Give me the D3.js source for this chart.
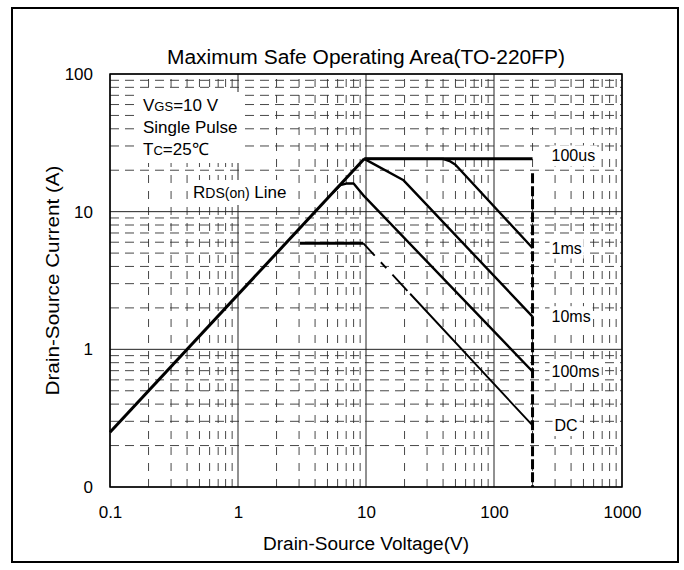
<!DOCTYPE html>
<html>
<head>
<meta charset="utf-8">
<script src="https://cdn.jsdelivr.net/npm/d3@7"></script>
<style>
    body { margin: 0; background: #fff; }
    text { font-family: "Liberation Sans", Arial, sans-serif; fill: #000; }
</style>
</head>
<body>
<div id="svgContainer"></div>
<script>
var width = 684,
    height = 570;

// axis ticks
var xTicks = [0.1, 1, 10, 100, 1000];
var xTickLabels = ["0.1", "1", "10", "100", "1000"];
var yTicks = [0.1, 1, 10, 100];
var yTickLabels = ["0", "1", "10", "100"];

// curves: drain-source voltage (V) / drain current (A)
var rdsV = [0.1, 9.7];
var rdsI = [0.25, 24.2];
var us100V = [9.7, 200];
var us100I = [24.2, 24.2];
var ms1V = [9.7, 40, 45, 50, 200];
var ms1I = [24.2, 24.2, 23.3, 21.9, 5.45];
var ms10V = [9.7, 19.5, 200];
var ms10I = [24.2, 17.0, 1.73];
var ms100V = [5.5, 6.3, 7, 8, 9.5, 200];
var ms100I = [13.75, 15.6, 16, 16, 13.2, 0.69];
var dcFlatV = [3.05, 9.5];
var dcFlatI = [5.9, 5.9];
var dcV = [9.5, 200];
var dcI = [5.9, 0.28];
var limitV = [200, 200];
var limitI = [19, 0.1];

var curveNames = ["100us", "1ms", "10ms", "100ms", "DC"];

var margin = {left: 110, right: 622, top: 74, bottom: 487};

var svg = d3.select("#svgContainer").append("svg")
    .attr("width", width)
    .attr("height", height)
    .style("display", "block");

var x = d3.scaleLog().domain([0.1, 1000]).range([margin.left, margin.right]);
var y = d3.scaleLog().domain([0.1, 100]).range([margin.bottom, margin.top]);

isDecade = d => Math.abs(Math.log10(d) - Math.round(Math.log10(d))) < 1e-6;

// outer frame
svg.append("rect")
    .attr("x", 12).attr("y", 8)
    .attr("width", 666).attr("height", 554)
    .attr("fill", "none")
    .attr("stroke", "#000")
    .attr("stroke-width", 2);

// grid
var grid = svg.append("g");
grid.selectAll("line.vx")
    .data(x.ticks())
    .enter().append("line")
    .attr("x1", d => x(d)).attr("x2", d => x(d))
    .attr("y1", margin.bottom).attr("y2", margin.top)
    .attr("stroke", d => isDecade(d) ? "#222" : "#333")
    .attr("stroke-width", d => isDecade(d) ? 1 : 0.9)
    .attr("stroke-dasharray", d => isDecade(d) ? null : "8,8");

grid.selectAll("line.hy")
    .data(y.ticks())
    .enter().append("line")
    .attr("x1", margin.left).attr("x2", margin.right)
    .attr("y1", d => y(d)).attr("y2", d => y(d))
    .attr("stroke", d => isDecade(d) ? "#222" : "#333")
    .attr("stroke-width", d => isDecade(d) ? 1 : 0.9)
    .attr("stroke-dasharray", d => isDecade(d) ? null : "9,6");

// labels with white boxes behind them
var boxes = svg.append("g");
var labels = svg.append("g");

whiteBox = (nodes, pad) => {
    var b = nodes.map(n => n.getBBox());
    var x0 = d3.min(b, d => d.x) - pad,
        y0 = d3.min(b, d => d.y) - pad,
        x1 = d3.max(b, d => d.x + d.width) + pad,
        y1 = d3.max(b, d => d.y + d.height) + pad;
    boxes.append("rect")
        .attr("x", x0).attr("y", y0)
        .attr("width", x1 - x0).attr("height", y1 - y0)
        .attr("fill", "#fff");
}

var note = labels.append("g").attr("font-size", 17);
var t1 = note.append("text").attr("x", 143).attr("y", 111);
t1.append("tspan").text("V");
t1.append("tspan").attr("font-size", 13).text("GS");
t1.append("tspan").text("=10 V");
var t2 = note.append("text").attr("x", 143).attr("y", 133).text("Single Pulse");
var t3 = note.append("text").attr("x", 143).attr("y", 155);
t3.append("tspan").text("T");
t3.append("tspan").attr("font-size", 13).text("C");
t3.append("tspan").text("=25\u2103");
whiteBox([t1.node(), t2.node(), t3.node()], 4);

var rds = labels.append("text").attr("x", 193).attr("y", 198).attr("font-size", 17);
rds.append("tspan").text("R");
rds.append("tspan").attr("font-size", 14).text("DS(on)");
rds.append("tspan").text(" Line");
whiteBox([rds.node()], 3);

var ends = [us100I, ms1I, ms10I, ms100I, dcI];
curveNames.forEach((name, i) => {
    var endI = ends[i][ends[i].length - 1];
    var t = labels.append("text")
        .attr("x", x(200) + (name == "DC" ? 22 : 19))
        .attr("y", y(endI) + (i == 0 ? -3 : 0))
        .attr("dy", "0.35em")
        .attr("font-size", 16)
        .text(name);
    whiteBox([t.node()], 2);
});

// curves
var line = d3.line().x(d => x(d[0])).y(d => y(d[1]));
var pts = (vs, is) => vs.map((v, i) => [v, is[i]]);

var curves = svg.append("g").attr("fill", "none").attr("stroke", "#000")
    .attr("stroke-linejoin", "round");

curves.append("path").attr("d", line(pts(rdsV, rdsI))).attr("stroke-width", 3);
curves.append("path").attr("d", line(pts(us100V, us100I))).attr("stroke-width", 3);
curves.append("path").attr("d", line(pts(ms1V, ms1I))).attr("stroke-width", 2.4);
curves.append("path").attr("d", line(pts(ms10V, ms10I))).attr("stroke-width", 2.4);
curves.append("path").attr("d", line(pts(ms100V, ms100I))).attr("stroke-width", 2.4);
curves.append("path").attr("d", line(pts(dcFlatV, dcFlatI))).attr("stroke-width", 3);
curves.append("path").attr("d", line(pts(dcV, dcI)))
    .attr("stroke-width", 1.9)
    .attr("stroke-dasharray", "17,9,8,9,22,4,400");
curves.append("path").attr("d", line(pts(limitV, limitI)))
    .attr("stroke-width", 3)
    .attr("stroke-dasharray", "10,3");

// plot frame
svg.append("rect")
    .attr("x", margin.left).attr("y", margin.top)
    .attr("width", margin.right - margin.left)
    .attr("height", margin.bottom - margin.top)
    .attr("fill", "none")
    .attr("stroke", "#000")
    .attr("stroke-width", 1.5);

// axes
var xAxis = svg.append("g")
    .attr("transform", "translate(0," + margin.bottom + ")")
    .call(d3.axisBottom(x).tickValues(xTicks).tickSize(0).tickPadding(19)
        .tickFormat((d, i) => xTickLabels[i]));
var yAxis = svg.append("g")
    .attr("transform", "translate(" + margin.left + ",0)")
    .call(d3.axisLeft(y).tickValues(yTicks).tickSize(0).tickPadding(17)
        .tickFormat((d, i) => yTickLabels[i]));
[xAxis, yAxis].forEach(a => {
    a.select(".domain").remove();
    a.attr("font-size", 17).attr("font-family", null);
});

// titles
svg.append("text")
    .attr("x", (margin.left + margin.right) / 2)
    .attr("y", 64)
    .attr("text-anchor", "middle")
    .attr("font-size", 20)
    .attr("textLength", 398)
    .attr("lengthAdjust", "spacingAndGlyphs")
    .text("Maximum Safe Operating Area(TO-220FP)");

svg.append("text")
    .attr("x", (margin.left + margin.right) / 2)
    .attr("y", 550)
    .attr("text-anchor", "middle")
    .attr("font-size", 18)
    .attr("textLength", 206)
    .attr("lengthAdjust", "spacingAndGlyphs")
    .text("Drain-Source Voltage(V)");

svg.append("text")
    .attr("transform", "translate(59," + (margin.top + margin.bottom) / 2 + ") rotate(-90)")
    .attr("text-anchor", "middle")
    .attr("font-size", 18)
    .attr("textLength", 230)
    .attr("lengthAdjust", "spacingAndGlyphs")
    .text("Drain-Source Current (A)");
</script>
</body>
</html>
